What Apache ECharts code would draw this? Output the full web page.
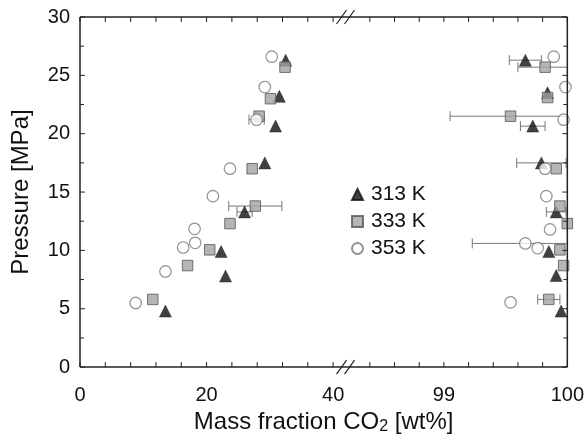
<!DOCTYPE html>
<html>
<head>
<meta charset="utf-8">
<script src="https://cdn.jsdelivr.net/npm/echarts@6/dist/echarts.min.js"></script>
<style>
  html, body { margin: 0; padding: 0; background: #fff; }
  #chart { width: 587px; height: 440px; }
</style>
</head>
<body>
<div id="chart"></div>
<script>
// 313 K (triangles)
const t313Wt  = [13.5, 23.0, 22.3, 26.0, 29.2, 30.9, 31.5, 32.5, 99.95, 99.91, 99.85, 99.91, 99.79, 99.72, 99.84, 99.66];
const t313P   = [4.8, 7.8, 9.9, 13.3, 17.5, 20.65, 23.2, 26.3, 4.8, 7.85, 9.9, 13.3, 17.5, 20.65, 23.5, 26.3];
const t313Err = [0, 0, 0, 1.2, 0, 0, 0, 0, 0, 0, 0, 0.08, 0.2, 0.1, 0, 0.13];
// 333 K (squares)
const t333Wt  = [11.5, 17.0, 20.5, 23.7, 27.7, 27.2, 28.3, 30.1, 32.4, 99.85, 99.97, 99.94, 100.0, 99.94, 99.91, 99.54, 99.84, 99.82];
const t333P   = [5.8, 8.7, 10.05, 12.3, 13.8, 17.0, 21.5, 23.0, 25.7, 5.8, 8.7, 10.05, 12.3, 13.8, 17.0, 21.5, 23.1, 25.7];
const t333Err = [0, 0, 0, 0, 4.2, 0, 0, 0, 0, 0.09, 0, 0, 0, 0, 0, 0.49, 0, 0.22];
// 353 K (circles)
const t353Wt  = [8.8, 13.5, 16.3, 18.2, 18.1, 21.0, 23.7, 27.9, 29.2, 30.3, 99.54, 99.76, 99.66, 99.86, 99.83, 99.82, 99.97, 99.985, 99.89];
const t353P   = [5.5, 8.2, 10.25, 10.65, 11.85, 14.65, 17.0, 21.2, 24.0, 26.6, 5.55, 10.2, 10.6, 11.8, 14.65, 17.0, 21.2, 24.0, 26.6];
const t353Err = [0, 0, 0, 0, 0, 0, 0, 1.2, 0, 0, 0, 0, 0.43, 0, 0, 0, 0, 0, 0];

const seriesNames = ['313 K', '333 K', '353 K'];
const xTickWt = [0, 4, 8, 12, 16, 20, 24, 28, 32, 36, 40, 98.4, 98.6, 98.8, 99, 99.2, 99.4, 99.6, 99.8, 100];
const xLabelWt = [0, 20, 40, 99, 100];
const xLabelText = ['0', '20', '40', '99', '100'];
const yTickVals = [0, 2.5, 5, 7.5, 10, 12.5, 15, 17.5, 20, 22.5, 25, 27.5, 30];

// broken axis: 0..40 wt% on the left part, 98.4..100 wt% zoomed on the right part
const toU = w => (w <= 50 ? w : 57.5 + (w - 99) * 19.5);
const BREAK_U = 41.8;
const X_MAX = 77;
const Y_MAX = 30;

const pts = (wt, p) => wt.map((w, i) => [toU(w), p[i]]);
const errs = (wt, p, e) => {
  const out = [];
  wt.forEach((w, i) => {
    if (e[i] > 0) out.push([toU(w - e[i]), toU(w + e[i]), p[i]]);
  });
  return out;
};
const errData = [].concat(
  errs(t313Wt, t313P, t313Err),
  errs(t333Wt, t333P, t333Err),
  errs(t353Wt, t353P, t353Err)
);

const xTickU = xTickWt.map(toU);
const xLabelU = xLabelWt.map(toU);
const fmtX = v => {
  const i = xLabelU.findIndex(u => Math.abs(u - v) < 1e-6);
  return i >= 0 ? xLabelText[i] : '';
};

const FONT = 'Liberation Sans';
const AX = '#222';
const TXT = '#111';

// frame, inward ticks on all four sides and the "//" break marks, drawn through the axes
const renderFrame = (params, api) => {
  const st = { stroke: AX, lineWidth: 1 };
  const seg = (a, b, w) => ({
    type: 'line',
    shape: { x1: a[0], y1: a[1], x2: b[0], y2: b[1] },
    style: { stroke: AX, lineWidth: w || 1 }
  });
  const tl = api.coord([0, Y_MAX]);
  const tr = api.coord([X_MAX, Y_MAX]);
  const br = api.coord([X_MAX, 0]);
  const bl = api.coord([0, 0]);
  const kids = [seg(tl, tr, 1.5), seg(tr, br, 1.5), seg(bl, br, 1.5), seg(tl, bl, 1.5)];
  xTickU.forEach(u => {
    const b = api.coord([u, 0]);
    const t = api.coord([u, Y_MAX]);
    kids.push(seg(b, [b[0], b[1] - 5]));
    kids.push(seg(t, [t[0], t[1] + 5]));
  });
  yTickVals.forEach((v, i) => {
    const len = i % 2 ? 4 : 5;
    const l = api.coord([0, v]);
    const r = api.coord([X_MAX, v]);
    kids.push(seg(l, [l[0] + len, l[1]]));
    kids.push(seg(r, [r[0] - len, r[1]]));
  });
  [0, Y_MAX].forEach(v => {
    const c = api.coord([BREAK_U, v]);
    [-3, 5].forEach(dx => {
      kids.push(seg([c[0] + dx - 5, c[1] + 7], [c[0] + dx + 5, c[1] - 7], 1.2));
    });
  });
  return { type: 'group', children: kids };
};

const chart = echarts.init(document.getElementById('chart'));
chart.setOption({
  animation: false,
  textStyle: { fontFamily: FONT },
  grid: { left: 80, right: 19, top: 17, bottom: 71 },
  legend: {
    data: [
      { name: seriesNames[0], icon: 'triangle' },
      { name: seriesNames[1], icon: 'rect' },
      { name: seriesNames[2], icon: 'circle' }
    ],
    orient: 'vertical',
    left: 346,
    top: 179,
    itemWidth: 11,
    itemHeight: 11,
    itemGap: 6,
    textStyle: { fontSize: 21, color: TXT, padding: [0, 0, 0, 3] }
  },
  xAxis: {
    type: 'value', min: 0, max: X_MAX,
    name: 'Mass fraction CO{sub|2} [wt%]',
    nameLocation: 'middle', nameGap: 38,
    nameTextStyle: {
      fontSize: 24, color: TXT,
      rich: { sub: { fontSize: 16, verticalAlign: 'bottom', padding: [10, 0, 0, 0], color: TXT } }
    },
    axisLine: { show: false },
    axisTick: { show: false },
    axisLabel: { customValues: xLabelU, formatter: fmtX, fontSize: 20, color: TXT, margin: 18 },
    splitLine: { show: false }
  },
  yAxis: {
    type: 'value', min: 0, max: Y_MAX, interval: 5,
    name: 'Pressure [MPa]', nameLocation: 'middle', nameGap: 47,
    nameTextStyle: { fontSize: 24, color: TXT },
    axisLine: { show: false },
    axisTick: { show: false },
    axisLabel: { fontSize: 20, color: TXT, margin: 10 },
    splitLine: { show: false }
  },
  series: [
    {
      name: 'frame',
      type: 'custom',
      clip: false,
      silent: true,
      z: 5,
      data: [[0, 0]],
      renderItem: renderFrame
    },
    {
      name: 'err',
      type: 'custom',
      clip: true,
      data: errData,
      renderItem: (params, api) => {
        const lo = api.coord([api.value(0), api.value(2)]);
        const hi = api.coord([api.value(1), api.value(2)]);
        const c = 5;
        const st = { stroke: '#777', lineWidth: 1 };
        return {
          type: 'group',
          children: [
            { type: 'line', shape: { x1: lo[0], y1: lo[1], x2: hi[0], y2: hi[1] }, style: st },
            { type: 'line', shape: { x1: lo[0], y1: lo[1] - c, x2: lo[0], y2: lo[1] + c }, style: st },
            { type: 'line', shape: { x1: hi[0], y1: hi[1] - c, x2: hi[0], y2: hi[1] + c }, style: st }
          ]
        };
      }
    },
    {
      name: seriesNames[0], type: 'scatter', symbol: 'triangle', symbolSize: 12,
      data: pts(t313Wt, t313P),
      itemStyle: { color: '#111', borderColor: '#111', borderWidth: 0.5 }
    },
    {
      name: seriesNames[1], type: 'scatter', symbol: 'rect', symbolSize: 10.5,
      data: pts(t333Wt, t333P),
      itemStyle: { color: '#a3a3a3', borderColor: '#555', borderWidth: 1 }
    },
    {
      name: seriesNames[2], type: 'scatter', symbol: 'circle', symbolSize: 11.5,
      data: pts(t353Wt, t353P),
      itemStyle: { color: '#fff', borderColor: '#777', borderWidth: 1.2 }
    }
  ]
});
</script>
</body>
</html>
